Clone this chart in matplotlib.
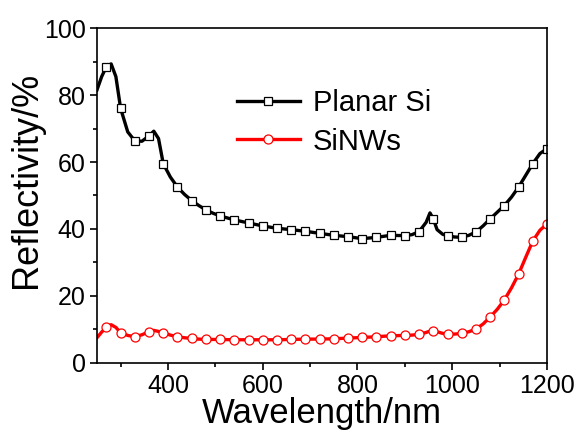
import matplotlib
matplotlib.use("Agg")
import matplotlib.pyplot as plt
from matplotlib.ticker import MultipleLocator

plt.rcParams['font.family'] = ['Liberation Sans', 'DejaVu Sans']

# wavelength grid (nm)
wl = [250, 260, 270, 280, 290, 300, 315, 330, 345, 360, 370, 380, 390, 405,
      420, 435, 450, 465, 480, 495, 510, 540, 570, 600, 630, 660, 690, 720,
      750, 780, 810, 840, 870, 900, 915, 930, 945, 953, 960, 968, 980, 990,
      1005, 1020, 1035, 1050, 1065, 1080, 1095, 1110, 1125, 1140, 1155, 1170,
      1185, 1200]

planar = [81.5, 85.5, 88.5, 89.3, 85.5, 76.0, 69.0, 66.3, 66.2, 67.8, 69.2,
          67.0, 59.5, 55.5, 52.5, 50.3, 48.5, 47.0, 45.7, 44.7, 43.9, 42.7,
          41.8, 40.9, 40.2, 39.8, 39.3, 38.7, 38.1, 37.7, 37.1, 37.5, 38.1,
          38.0, 38.3, 39.2, 42.0, 44.8, 43.0, 39.8, 38.4, 38.0, 37.6, 37.5,
          38.1, 39.1, 40.9, 43.0, 45.0, 47.0, 49.5, 52.5, 56.0, 59.5, 62.5,
          64.0]

sinws = [7.5, 9.2, 10.7, 11.4, 10.6, 9.0, 8.2, 7.8, 8.4, 9.3, 9.7, 9.4, 9.0,
         8.3, 7.8, 7.5, 7.3, 7.1, 7.0, 7.0, 7.0, 6.9, 6.9, 6.9, 6.9, 7.0, 7.1,
         7.1, 7.2, 7.4, 7.6, 7.8, 8.1, 8.2, 8.3, 8.5, 9.1, 9.5, 9.6, 9.3, 8.8,
         8.6, 8.6, 8.8, 9.3, 10.1, 11.6, 13.7, 16.0, 18.8, 22.4, 26.5, 31.5,
         36.4, 39.6, 41.5]

# symbols every 30 nm from 270 nm
marker_wl = list(range(270, 1201, 30))
marks = [i for i, w in enumerate(wl) if w in marker_wl]

fig = plt.figure(figsize=(5.77, 4.32), dpi=100)
ax = fig.add_axes([0.168, 0.16, 0.78, 0.775])

ax.plot(wl, planar, color='black', lw=2.4, marker='s', markevery=marks,
        ms=6, mfc='white', mec='black', mew=0.9, label='Planar Si')
ax.plot(wl, sinws, color='red', lw=2.4, marker='o', markevery=marks,
        ms=6.5, mfc='white', mec='red', mew=0.9, label='SiNWs')

ax.set_xlim(250, 1200)
ax.set_ylim(0, 100)
ax.xaxis.set_major_locator(MultipleLocator(200))
ax.xaxis.set_minor_locator(MultipleLocator(100))
ax.yaxis.set_major_locator(MultipleLocator(20))
ax.yaxis.set_minor_locator(MultipleLocator(10))
ax.tick_params(which='major', direction='out', length=5, width=1.2,
               labelsize=18, pad=3, top=False, right=False)
ax.tick_params(which='minor', direction='out', length=3, width=1.2,
               top=False, right=False)
for s in ax.spines.values():
    s.set_linewidth(1.2)

ax.set_xlabel('Wavelength/nm', fontsize=25, labelpad=-1)
ax.set_ylabel('Reflectivity/%', fontsize=26)
ax.yaxis.set_label_coords(-0.118, 0.545)

ax.legend(loc='upper left', bbox_to_anchor=(0.311, 0.818), frameon=False,
          fontsize=21, numpoints=1, handlelength=2.15, handletextpad=0.45,
          labelspacing=0.36, borderpad=0, borderaxespad=0)

fig.savefig('out.png', dpi=100)
